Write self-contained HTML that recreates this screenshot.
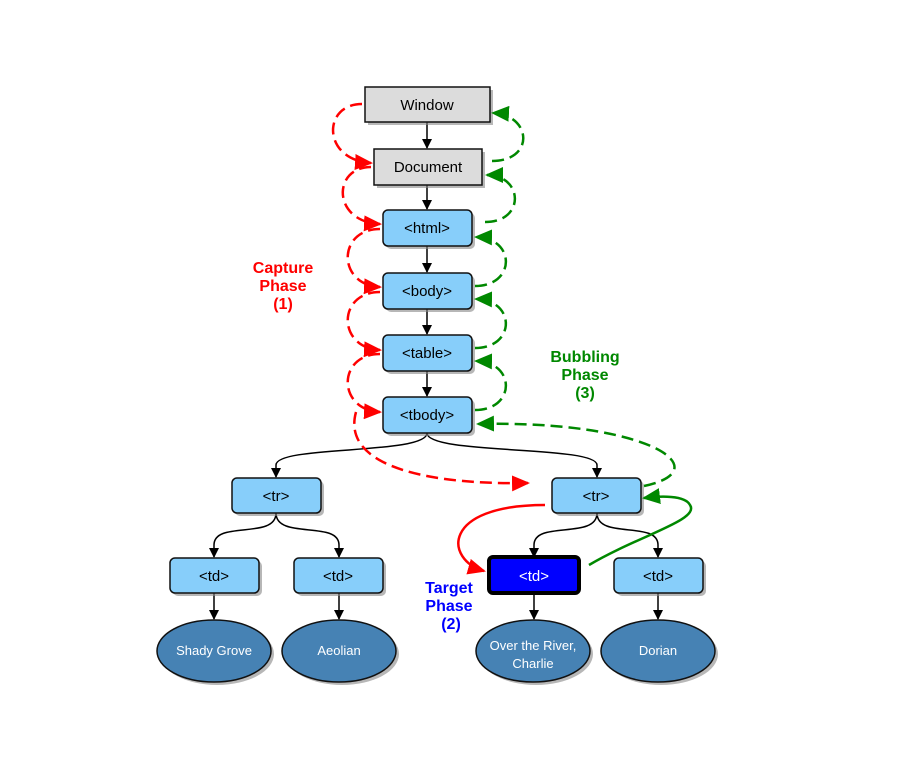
<!DOCTYPE html>
<html><head><meta charset="utf-8"><style>body{margin:0;background:#fff}svg{display:block}</style></head><body>
<svg width="900" height="768" viewBox="0 0 900 768" xmlns="http://www.w3.org/2000/svg" font-family="Liberation Sans, sans-serif">
<defs>
<marker id="ab" markerWidth="10" markerHeight="10" refX="9" refY="5" orient="auto" markerUnits="userSpaceOnUse"><path d="M0,0 L10,5 L0,10 z" fill="#000"/></marker>
<marker id="ar" markerWidth="18" markerHeight="16" refX="16" refY="8" orient="auto" markerUnits="userSpaceOnUse"><path d="M0,0 L18,8 L0,16 z" fill="#f00"/></marker>
<marker id="ag" markerWidth="18" markerHeight="16" refX="16" refY="8" orient="auto" markerUnits="userSpaceOnUse"><path d="M0,0 L18,8 L0,16 z" fill="#080"/></marker>
</defs>
<g stroke="#000" stroke-width="1.5" fill="none" marker-end="url(#ab)">
<path d="M427,122 V148"/><path d="M427,185 V209"/><path d="M427,246 V272"/><path d="M427,309 V334"/><path d="M427,371 V396"/>
<path d="M427,433 C427,455 276,445 276,465 V477"/>
<path d="M427,433 C427,455 597,445 597,465 V477"/>
<path d="M276,513 C276,540 214,520 214,545 V557"/>
<path d="M276,513 C276,540 339,520 339,545 V557"/>
<path d="M597,513 C597,540 534,520 534,545 V557"/>
<path d="M597,513 C597,540 658,520 658,545 V557"/>
<path d="M214,593 V619"/><path d="M339,593 V619"/><path d="M534,593 V619"/><path d="M658,593 V619"/>
</g>
<g fill="#888" opacity="0.6">
<rect x="368" y="90" width="125" height="35"/><rect x="377" y="152" width="108" height="36"/>
<rect x="386" y="213" width="89" height="36" rx="5"/><rect x="386" y="276" width="89" height="36" rx="5"/><rect x="386" y="338" width="89" height="36" rx="5"/><rect x="386" y="400" width="89" height="36" rx="5"/>
<rect x="235" y="481" width="89" height="35" rx="5"/><rect x="555" y="481" width="89" height="35" rx="5"/>
<rect x="173" y="561" width="89" height="35" rx="5"/><rect x="297" y="561" width="89" height="35" rx="5"/><rect x="617" y="561" width="89" height="35" rx="5"/>
<ellipse cx="217" cy="654" rx="57" ry="31"/><ellipse cx="342" cy="654" rx="57" ry="31"/><ellipse cx="536" cy="654" rx="57" ry="31"/><ellipse cx="661" cy="654" rx="57" ry="31"/>
</g>
<g stroke="#111" stroke-width="1.5">
<rect x="365" y="87" width="125" height="35" fill="#dcdcdc"/><rect x="374" y="149" width="108" height="36" fill="#dcdcdc"/>
<g fill="#87cefa"><rect x="383" y="210" width="89" height="36" rx="5"/><rect x="383" y="273" width="89" height="36" rx="5"/><rect x="383" y="335" width="89" height="36" rx="5"/><rect x="383" y="397" width="89" height="36" rx="5"/>
<rect x="232" y="478" width="89" height="35" rx="5"/><rect x="552" y="478" width="89" height="35" rx="5"/>
<rect x="170" y="558" width="89" height="35" rx="5"/><rect x="294" y="558" width="89" height="35" rx="5"/><rect x="614" y="558" width="89" height="35" rx="5"/></g>
<rect x="489" y="557" width="90" height="36" rx="4" fill="#0000ff" stroke="#000" stroke-width="4"/>
<g fill="#4682b4"><ellipse cx="214" cy="651" rx="57" ry="31"/><ellipse cx="339" cy="651" rx="57" ry="31"/><ellipse cx="533" cy="651" rx="57" ry="31"/><ellipse cx="658" cy="651" rx="57" ry="31"/></g>
</g>
<g font-size="15" text-anchor="middle" fill="#000">
<text x="427" y="110">Window</text><text x="428" y="172">Document</text>
<text x="427" y="233">&lt;html&gt;</text><text x="427" y="296">&lt;body&gt;</text><text x="427" y="358">&lt;table&gt;</text><text x="427" y="420">&lt;tbody&gt;</text>
<text x="276" y="501">&lt;tr&gt;</text><text x="596" y="501">&lt;tr&gt;</text>
<text x="214" y="581">&lt;td&gt;</text><text x="338" y="581">&lt;td&gt;</text><text x="658" y="581">&lt;td&gt;</text>
<text x="534" y="581" fill="#fff">&lt;td&gt;</text>
</g>
<g font-size="13" text-anchor="middle" fill="#fff">
<text x="214" y="655">Shady Grove</text><text x="339" y="655">Aeolian</text>
<text x="533" y="650">Over the River,</text><text x="533" y="668">Charlie</text><text x="658" y="655">Dorian</text>
</g>
<g stroke="#f00" stroke-width="2.5" fill="none" stroke-dasharray="12,6" marker-end="url(#ar)">
<path d="M362,104 C322,104 322,160 371,163"/>
<path d="M371,167 C332,167 332,222 380,224"/>
<path d="M380,229 C337,229 337,285 380,287"/>
<path d="M380,292 C337,292 337,348 380,350"/>
<path d="M380,354 C337,354 337,410 380,412"/>
<path d="M356,412 C340,470 440,485 528,483"/>
</g>
<path d="M545,505 C440,505 445,560 484,571" stroke="#f00" stroke-width="2.5" fill="none" marker-end="url(#ar)"/>
<g stroke="#080" stroke-width="2.5" fill="none" stroke-dasharray="12,6" marker-end="url(#ag)">
<path d="M492,161 C535,161 532,115 493,113"/>
<path d="M485,222 C526,222 523,175 487,175"/>
<path d="M475,286 C516,286 516,238 476,237"/>
<path d="M475,348 C516,348 516,300 476,299"/>
<path d="M475,410 C516,410 516,362 476,361"/>
<path d="M644,486 C720,470 650,420 478,424"/>
</g>
<path d="M589,565 C640,535 700,520 690,505 C685,495 660,496 644,498" stroke="#080" stroke-width="2.5" fill="none" marker-end="url(#ag)"/>
<g font-size="16" font-weight="bold" text-anchor="middle">
<g fill="#f00"><text x="283" y="273">Capture</text><text x="283" y="291">Phase</text><text x="283" y="309">(1)</text></g>
<g fill="#080"><text x="585" y="362">Bubbling</text><text x="585" y="380">Phase</text><text x="585" y="398">(3)</text></g>
<g fill="#00f"><text x="449" y="593">Target</text><text x="449" y="611">Phase</text><text x="451" y="629">(2)</text></g>
</g>
</svg>
</body></html>
